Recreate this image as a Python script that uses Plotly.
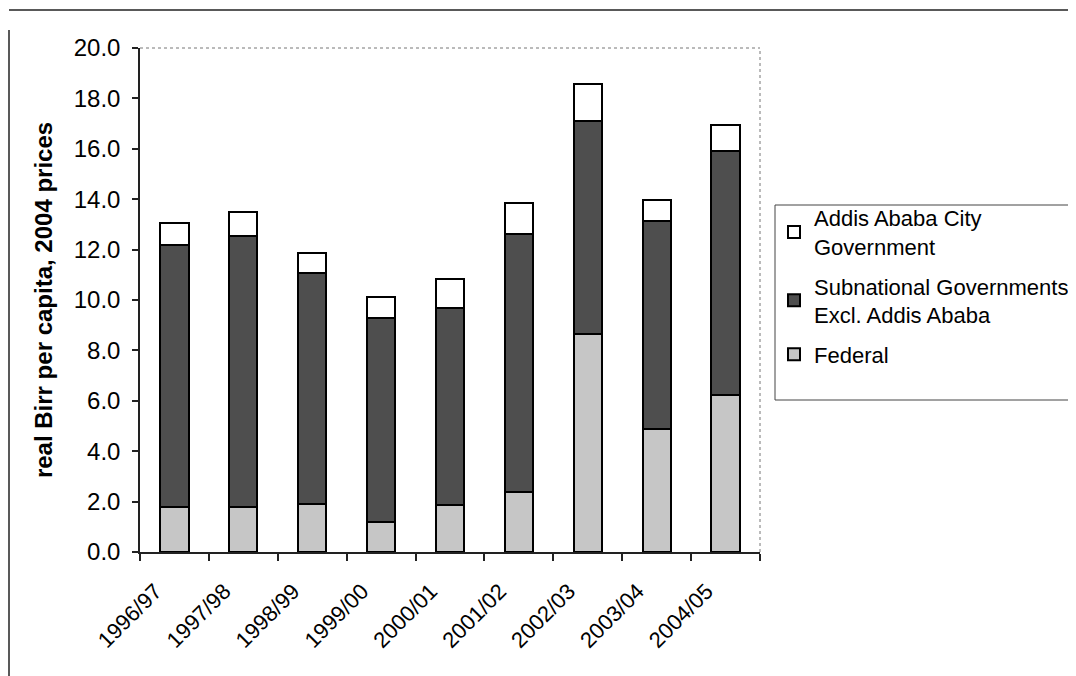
import plotly.graph_objects as go

years = ["1996/97", "1997/98", "1998/99", "1999/00", "2000/01",
         "2001/02", "2002/03", "2003/04", "2004/05"]
federal = [1.80, 1.80, 1.90, 1.20, 1.85, 2.40, 8.65, 4.90, 6.22]
subnational = [10.40, 10.75, 9.18, 8.07, 7.85, 10.20, 8.45, 8.23, 9.68]
addis = [0.86, 0.95, 0.79, 0.86, 1.12, 1.23, 1.46, 0.82, 1.06]

names = ["Federal", "Subnational Governments<br>Excl. Addis Ababa",
         "Addis Ababa City<br>Government"]
colors = ["#c6c6c6", "#4e4e4e", "#ffffff"]
ranks = [3, 2, 1]
series = [federal, subnational, addis]

FONT = "Liberation Sans, Arial, sans-serif"

fig = go.Figure()
for i, (name, vals, col) in enumerate(zip(names, series, colors)):
    fig.add_trace(go.Bar(
        x=years, y=vals, name=name, legendgroup=f"g{ranks[i]}",
        legendrank=ranks[i],
        marker=dict(color=col, line=dict(color="#000000", width=2)),
    ))

# page body has an 8px margin: work in reference pixels minus 8
OFF = 8
W, H = 1076 - OFF, 676 - OFF
L, R, T, B = 140 - OFF, 760 - OFF, 48 - OFF, 552 - OFF

def px(x):
    return (x - OFF - L) / (R - L)

def py(y):
    return (B - (y - OFF)) / (B - T)

fig.update_layout(
    width=W, height=H,
    barmode="stack", bargap=0.59,
    paper_bgcolor="white", plot_bgcolor="white",
    margin=dict(l=L, r=W - R, t=T, b=H - B, autoexpand=False),
    font=dict(family=FONT, color="#000000", size=22),
    showlegend=True,
    legend=dict(
        traceorder="grouped",
        x=px(774), y=py(197), xanchor="left", yanchor="top",
        borderwidth=0,
        font=dict(size=22, family=FONT),
        itemsizing="constant", tracegroupgap=8,
        bgcolor="rgba(0,0,0,0)",
    ),
    xaxis=dict(
        showline=True, linecolor="#222222", linewidth=1.5,
        ticks="outside", ticklen=7, tickcolor="#222222", tickwidth=1.5,
        tickson="boundaries", tickangle=-45,
        tickfont=dict(size=22, family=FONT),
        ticklabelstandoff=16, ticklabelshift=-19,
        showgrid=False,
    ),
    yaxis=dict(
        range=[0, 20], dtick=2, tickformat=".1f",
        showline=True, linecolor="#222222", linewidth=1.5,
        ticks="outside", ticklen=6, tickcolor="#222222", tickwidth=1.5,
        tickfont=dict(size=24, family=FONT), ticklabelstandoff=7,
        showgrid=False, zeroline=False,
        title=dict(text="<b>real Birr per capita, 2004 prices</b>",
                   font=dict(size=24, family=FONT), standoff=14),
    ),
    shapes=[
        # plot area dotted border (top and right)
        dict(type="line", xref="paper", yref="paper", x0=0, x1=1, y0=1, y1=1,
             line=dict(color="#777777", width=1, dash="dot")),
        dict(type="line", xref="paper", yref="paper", x0=1, x1=1, y0=0, y1=1,
             line=dict(color="#777777", width=1, dash="dot")),
        # legend frame
        dict(type="rect", xref="paper", yref="paper",
             x0=px(775), x1=px(1090), y0=py(400), y1=py(205),
             line=dict(color="#444444", width=1)),
        # outer frame lines
        dict(type="line", xref="paper", yref="paper",
             x0=px(9), x1=px(1076), y0=py(10), y1=py(10),
             line=dict(color="#222222", width=1.5)),
        dict(type="line", xref="paper", yref="paper",
             x0=px(9), x1=px(9), y0=py(30), y1=py(676),
             line=dict(color="#222222", width=1.5)),
    ],
)

fig.write_html("out.html")
